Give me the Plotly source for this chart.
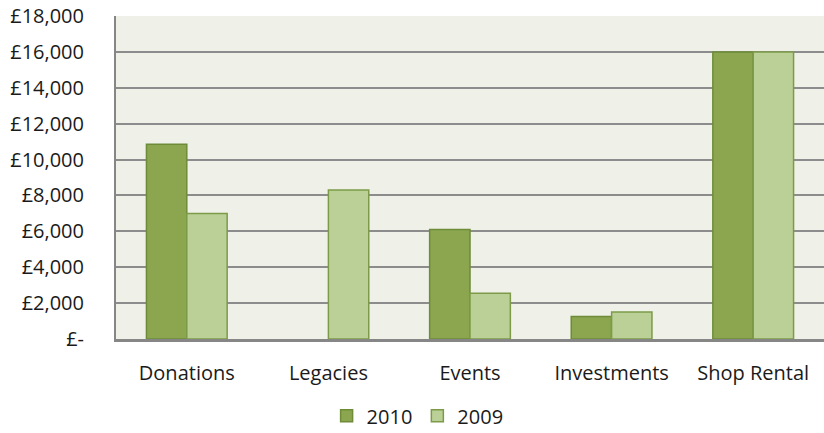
import plotly.graph_objects as go

categories = ["Donations", "Legacies", "Events", "Investments", "Shop Rental"]
values_2010 = [10850, None, 6100, 1250, 16000]
values_2009 = [7000, 8300, 2550, 1500, 16000]
tick_vals = [0, 2000, 4000, 6000, 8000, 10000, 12000, 14000, 16000, 18000]
tick_text = ["£-", "£2,000", "£4,000", "£6,000", "£8,000", "£10,000", "£12,000", "£14,000", "£16,000", "£18,000"]

fig = go.Figure()
fig.add_trace(go.Bar(name="2010", x=categories, y=values_2010,
                     marker=dict(color="#8BA64F", line=dict(color="#6E8C38", width=1.5))))
fig.add_trace(go.Bar(name="2009", x=categories, y=values_2009,
                     marker=dict(color="#BBD097", line=dict(color="#7C9A48", width=1.5))))

font = "Open Sans, Liberation Sans, sans-serif"
fig.update_layout(
    width=824, height=433,
    barmode="group", bargap=0.43, bargroupgap=0,
    plot_bgcolor="#EFF1E9", paper_bgcolor="white",
    margin=dict(l=116, r=0, t=16, b=94, autoexpand=False),
    font=dict(family=font, size=20, color="#1a1a1a"),
    showlegend=True,
    legend=dict(orientation="h", x=0.426, xanchor="center", y=-0.238, yanchor="middle",
                font=dict(size=20), traceorder="normal", bgcolor="rgba(0,0,0,0)",
                tracegroupgap=0),
    xaxis=dict(showline=True, linecolor="#868686", linewidth=3, ticks="",
               tickfont=dict(size=20), showgrid=False, automargin=False,
               ticklabelstandoff=14),
    yaxis=dict(range=[0, 18000], tickvals=tick_vals, ticktext=tick_text,
               showline=True, linecolor="#868686", linewidth=2,
               gridcolor="#8C8C8C", gridwidth=1.5, zeroline=False,
               ticks="", ticklen=0, tickfont=dict(size=20), automargin=False,
               ticklabelstandoff=26),
)
fig.write_html("out.html", config={"displayModeBar": False},
               post_script="document.body.style.margin='0';")
